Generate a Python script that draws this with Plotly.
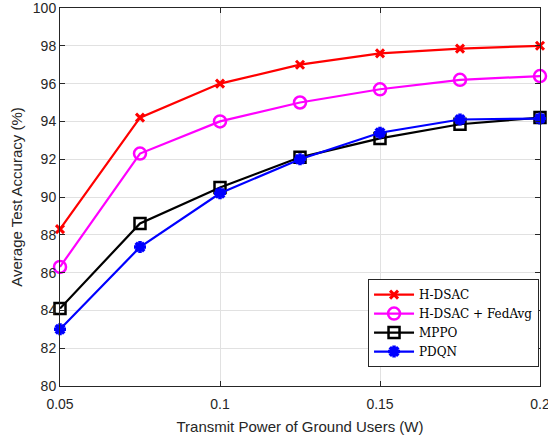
import plotly.graph_objects as go

x_power = [0.05, 0.075, 0.1, 0.125, 0.15, 0.175, 0.2]
h_dsac = [88.3, 94.2, 96.0, 97.0, 97.6, 97.85, 98.0]
h_dsac_fedavg = [86.3, 92.3, 94.0, 95.0, 95.7, 96.2, 96.4]
mppo = [84.1, 88.6, 90.5, 92.1, 93.1, 93.85, 94.2]
pdqn = [83.0, 87.35, 90.2, 92.0, 93.4, 94.1, 94.15]

x_ticks = [0.05, 0.1, 0.15, 0.2]
x_tick_labels = ["0.05", "0.1", "0.15", "0.2"]
y_ticks = list(range(80, 101, 2))

fig = go.Figure()
series = [
    ("H-DSAC", h_dsac, "#ff0000", dict(symbol="x-thin-open", size=8, line=dict(width=3, color="#ff0000"))),
    ("H-DSAC + FedAvg", h_dsac_fedavg, "#ff00ff", dict(symbol="circle-open", size=12, line=dict(width=2.5, color="#ff00ff"))),
    ("MPPO", mppo, "#000000", dict(symbol="square-open", size=11, line=dict(width=2.5, color="#000000"))),
    ("PDQN", pdqn, "#0000ff", dict(symbol="asterisk-open", size=10, line=dict(width=3.5, color="#0000ff"))),
]
for name, ys, col, mk in series:
    fig.add_trace(go.Scatter(x=x_power, y=ys, name=name, mode="lines+markers",
                             line=dict(color=col, width=2.2), marker=mk, cliponaxis=False))

axis_common = dict(showline=True, linecolor="#262626", linewidth=1, mirror="ticks",
                   ticks="inside", ticklen=5, tickcolor="#262626",
                   showgrid=True, gridcolor="#e1e1e1", gridwidth=1, zeroline=False,
                   automargin=False, ticklabeloverflow="allow",
                   tickfont=dict(family="Liberation Sans", size=14, color="#262626"))

fig.update_xaxes(range=[0.05, 0.2], tickvals=x_ticks, ticktext=x_tick_labels,
                 ticklabelstandoff=5,
                 title=dict(text="Transmit Power of Ground Users (W)", font=dict(family="Liberation Sans", size=15, color="#262626"), standoff=10),
                 **axis_common)
fig.update_yaxes(range=[80, 100], tickvals=y_ticks,
                 title=dict(text="Average Test Accuracy (%)", font=dict(family="Liberation Sans", size=15, color="#262626"), standoff=6),
                 **axis_common)

fig.update_layout(
    width=548, height=438,
    margin=dict(l=60, r=8, t=8, b=52),
    plot_bgcolor="white", paper_bgcolor="white",
    legend=dict(x=0.998, y=0.05, xanchor="right", yanchor="bottom",
                bgcolor="white", bordercolor="#262626", borderwidth=1,
                font=dict(family="DejaVu Serif", size=12, color="#000000"),
                tracegroupgap=0, itemwidth=40),
    showlegend=True,
)

fig.write_html("out.html", config={"displayModeBar": False},
               post_script="document.body.style.margin='0';document.body.style.overflow='hidden';")
